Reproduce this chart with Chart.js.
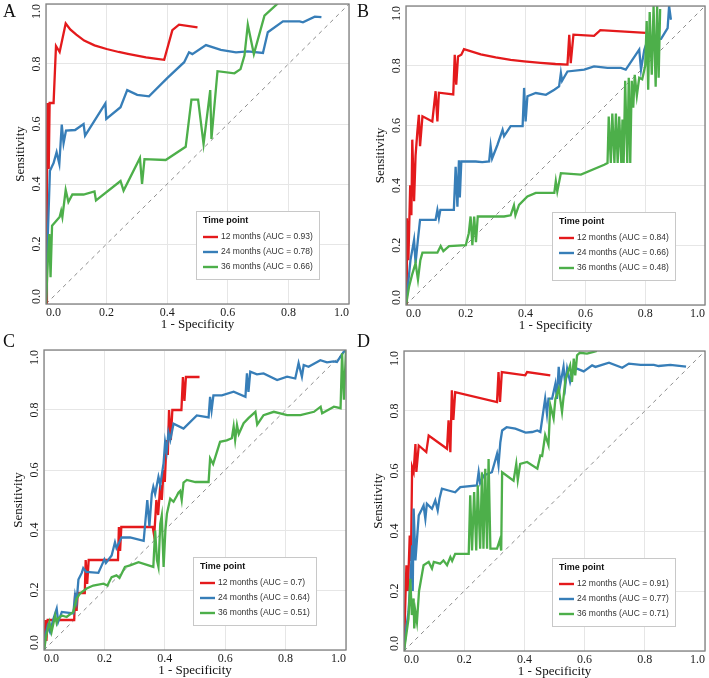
<!DOCTYPE html>
<html>
<head>
<meta charset="utf-8">
<script src="https://cdn.jsdelivr.net/npm/chart.js@4/dist/chart.umd.min.js"></script>
<style>
body { margin: 0; width: 709px; height: 678px; background: #fff; position: relative; overflow: hidden; }
.panel { position: absolute; }
.tag { position: absolute; font-family: "Liberation Serif", serif; font-size: 18px; line-height: 18px; color: #111; }
</style>
</head>
<body>
<div class="panel" style="left:0px;top:0px"><canvas id="chartA" width="354" height="338"></canvas></div>
<div class="panel" style="left:354px;top:0px"><canvas id="chartB" width="355" height="338"></canvas></div>
<div class="panel" style="left:0px;top:338px"><canvas id="chartC" width="354" height="340"></canvas></div>
<div class="panel" style="left:354px;top:338px"><canvas id="chartD" width="355" height="340"></canvas></div>
<div class="tag" style="left:3px;top:2px">A</div>
<div class="tag" style="left:357px;top:2px">B</div>
<div class="tag" style="left:3px;top:332px">C</div>
<div class="tag" style="left:357px;top:332px">D</div>
<script>
// series as [1 - specificity, sensitivity]
const timePoints = ['12 months', '24 months', '36 months'];
const aucA = [0.93, 0.78, 0.66];
const aucB = [0.84, 0.66, 0.48];
const aucC = [0.7, 0.64, 0.51];
const aucD = [0.91, 0.77, 0.71];
const legendTitle = 'Time point';
const xTitle = '1 - Specificity';
const yTitle = 'Sensitivity';
const axisTicks = [0, 0.2, 0.4, 0.6, 0.8, 1.0];
const diagonal = [0, 1];

const A_12 = [[0,0],[0.003,0.37],[0.005,0.67],[0.009,0.45],[0.012,0.67],[0.025,0.67],[0.033,0.86],[0.045,0.84],[0.065,0.935],[0.08,0.915],[0.1,0.898],[0.126,0.878],[0.16,0.862],[0.2,0.85],[0.24,0.84],[0.27,0.834],[0.3,0.828],[0.33,0.822],[0.36,0.818],[0.39,0.814],[0.417,0.913],[0.439,0.931],[0.5,0.922]];
const A_24 = [[0,0],[0.005,0.2],[0.013,0.444],[0.025,0.47],[0.035,0.506],[0.044,0.467],[0.052,0.598],[0.058,0.536],[0.066,0.578],[0.096,0.58],[0.124,0.6],[0.129,0.561],[0.196,0.669],[0.199,0.617],[0.246,0.656],[0.268,0.713],[0.301,0.697],[0.34,0.692],[0.4,0.753],[0.456,0.806],[0.472,0.839],[0.483,0.833],[0.528,0.863],[0.577,0.847],[0.627,0.839],[0.666,0.842],[0.716,0.837],[0.732,0.906],[0.782,0.942],[0.837,0.942],[0.848,0.939],[0.887,0.958],[0.909,0.956]];
const A_36 = [[0,0],[0.006,0.144],[0.011,0.233],[0.015,0.089],[0.02,0.261],[0.045,0.29],[0.05,0.31],[0.054,0.29],[0.065,0.38],[0.074,0.34],[0.087,0.365],[0.124,0.365],[0.16,0.375],[0.165,0.345],[0.246,0.41],[0.256,0.378],[0.31,0.487],[0.317,0.4],[0.325,0.483],[0.395,0.48],[0.461,0.524],[0.48,0.681],[0.502,0.681],[0.52,0.533],[0.542,0.713],[0.546,0.55],[0.566,0.776],[0.622,0.769],[0.642,0.783],[0.655,0.828],[0.666,0.931],[0.686,0.833],[0.721,0.961],[0.765,1.002]];

const B_12 = [[0,0],[0.003,0.29],[0.008,0.15],[0.014,0.4],[0.018,0.3],[0.021,0.553],[0.027,0.347],[0.032,0.5],[0.038,0.58],[0.043,0.636],[0.047,0.531],[0.055,0.631],[0.088,0.614],[0.099,0.715],[0.105,0.614],[0.11,0.71],[0.158,0.704],[0.163,0.837],[0.168,0.737],[0.174,0.831],[0.185,0.837],[0.194,0.856],[0.25,0.838],[0.3,0.828],[0.35,0.82],[0.395,0.815],[0.45,0.81],[0.5,0.806],[0.54,0.804],[0.546,0.904],[0.551,0.809],[0.56,0.904],[0.629,0.9],[0.65,0.919],[0.802,0.91]];
const B_24 = [[0,0],[0.008,0.08],[0.015,0.15],[0.027,0.218],[0.032,0.14],[0.04,0.22],[0.047,0.285],[0.06,0.285],[0.099,0.285],[0.105,0.318],[0.11,0.29],[0.115,0.318],[0.16,0.318],[0.166,0.462],[0.172,0.329],[0.177,0.484],[0.18,0.36],[0.185,0.48],[0.233,0.48],[0.255,0.478],[0.278,0.48],[0.283,0.531],[0.288,0.49],[0.306,0.536],[0.323,0.586],[0.328,0.565],[0.35,0.598],[0.39,0.598],[0.395,0.726],[0.4,0.614],[0.406,0.698],[0.434,0.709],[0.468,0.703],[0.496,0.72],[0.512,0.731],[0.518,0.776],[0.522,0.75],[0.54,0.781],[0.596,0.787],[0.629,0.798],[0.674,0.793],[0.719,0.793],[0.735,0.787],[0.78,0.854],[0.786,0.787],[0.797,0.854],[0.808,0.887],[0.853,0.89],[0.875,0.926],[0.88,1.0],[0.886,0.954]];
const B_36 = [[0,0],[0.01,0.06],[0.02,0.1],[0.032,0.14],[0.04,0.085],[0.048,0.15],[0.055,0.175],[0.077,0.175],[0.105,0.175],[0.116,0.197],[0.125,0.18],[0.144,0.197],[0.2,0.2],[0.21,0.24],[0.216,0.296],[0.222,0.2],[0.228,0.296],[0.234,0.21],[0.24,0.296],[0.25,0.296],[0.328,0.296],[0.35,0.3],[0.361,0.333],[0.366,0.3],[0.378,0.335],[0.406,0.363],[0.434,0.375],[0.496,0.375],[0.501,0.414],[0.506,0.38],[0.518,0.441],[0.585,0.436],[0.663,0.469],[0.674,0.475],[0.678,0.63],[0.685,0.475],[0.69,0.64],[0.697,0.475],[0.702,0.64],[0.708,0.475],[0.713,0.63],[0.72,0.475],[0.724,0.62],[0.728,0.475],[0.733,0.75],[0.74,0.475],[0.745,0.76],[0.75,0.475],[0.755,0.75],[0.76,0.66],[0.765,0.77],[0.772,0.7],[0.78,0.76],[0.79,0.755],[0.8,0.8],[0.805,0.95],[0.81,0.72],[0.815,0.98],[0.822,0.77],[0.828,1.0],[0.835,0.73],[0.84,1.0],[0.845,0.76],[0.85,0.99]];

const C_12 = [[0,0],[0.005,0.1],[0.008,0.03],[0.012,0.1],[0.1,0.1],[0.103,0.19],[0.108,0.13],[0.112,0.19],[0.135,0.19],[0.138,0.3],[0.143,0.22],[0.148,0.3],[0.245,0.3],[0.248,0.41],[0.252,0.33],[0.256,0.41],[0.36,0.41],[0.365,0.38],[0.372,0.5],[0.378,0.45],[0.385,0.55],[0.39,0.5],[0.396,0.6],[0.4,0.56],[0.406,0.7],[0.41,0.65],[0.414,0.8],[0.42,0.7],[0.425,0.8],[0.455,0.8],[0.46,0.91],[0.465,0.83],[0.47,0.91],[0.515,0.91]];
const C_24 = [[0,0],[0.005,0.05],[0.012,0.08],[0.02,0.06],[0.03,0.1],[0.042,0.138],[0.047,0.094],[0.059,0.127],[0.097,0.122],[0.103,0.183],[0.108,0.16],[0.114,0.235],[0.125,0.257],[0.13,0.273],[0.14,0.26],[0.18,0.257],[0.2,0.302],[0.205,0.29],[0.224,0.315],[0.235,0.359],[0.24,0.34],[0.257,0.375],[0.285,0.375],[0.33,0.364],[0.342,0.5],[0.349,0.413],[0.357,0.52],[0.362,0.544],[0.368,0.52],[0.379,0.577],[0.385,0.55],[0.396,0.623],[0.401,0.692],[0.406,0.66],[0.412,0.725],[0.418,0.7],[0.429,0.754],[0.462,0.738],[0.506,0.782],[0.545,0.775],[0.55,0.844],[0.555,0.8],[0.561,0.849],[0.589,0.849],[0.628,0.861],[0.667,0.844],[0.672,0.922],[0.677,0.86],[0.683,0.928],[0.705,0.919],[0.727,0.922],[0.772,0.9],[0.805,0.911],[0.832,0.905],[0.843,0.956],[0.854,0.911],[0.86,0.95],[0.876,0.944],[0.915,0.966],[0.937,0.959],[0.959,0.962],[0.97,0.96],[0.981,0.977],[0.992,0.993],[1,1]];
const C_36 = [[0,0],[0.008,0.05],[0.018,0.092],[0.025,0.06],[0.037,0.115],[0.042,0.09],[0.047,0.105],[0.059,0.115],[0.075,0.11],[0.097,0.127],[0.108,0.171],[0.119,0.188],[0.141,0.205],[0.163,0.215],[0.197,0.221],[0.21,0.215],[0.224,0.243],[0.24,0.249],[0.25,0.24],[0.268,0.277],[0.285,0.282],[0.313,0.293],[0.362,0.277],[0.368,0.398],[0.374,0.3],[0.379,0.277],[0.385,0.42],[0.39,0.448],[0.396,0.277],[0.402,0.4],[0.407,0.454],[0.418,0.504],[0.429,0.494],[0.44,0.514],[0.445,0.524],[0.451,0.53],[0.456,0.5],[0.462,0.558],[0.473,0.567],[0.501,0.56],[0.545,0.56],[0.55,0.639],[0.56,0.62],[0.583,0.694],[0.605,0.699],[0.622,0.706],[0.628,0.745],[0.633,0.7],[0.639,0.75],[0.645,0.72],[0.661,0.756],[0.677,0.773],[0.7,0.794],[0.706,0.751],[0.727,0.783],[0.761,0.794],[0.805,0.783],[0.849,0.783],[0.894,0.794],[0.916,0.811],[0.921,0.789],[0.96,0.811],[0.982,0.806],[0.987,0.989],[0.993,0.834],[1,1]];

const D_12 = [[0,0],[0.004,0.15],[0.008,0.286],[0.013,0.2],[0.019,0.385],[0.023,0.3],[0.027,0.613],[0.032,0.597],[0.038,0.69],[0.041,0.597],[0.049,0.685],[0.074,0.663],[0.082,0.718],[0.143,0.674],[0.148,0.769],[0.154,0.663],[0.159,0.869],[0.164,0.77],[0.17,0.863],[0.309,0.83],[0.314,0.93],[0.319,0.83],[0.325,0.93],[0.403,0.919],[0.409,0.93],[0.486,0.919]];
const D_24 = [[0,0],[0.008,0.08],[0.015,0.13],[0.022,0.25],[0.027,0.352],[0.029,0.2],[0.032,0.475],[0.038,0.302],[0.049,0.452],[0.058,0.47],[0.065,0.485],[0.071,0.441],[0.076,0.491],[0.093,0.474],[0.104,0.502],[0.112,0.469],[0.118,0.508],[0.126,0.541],[0.148,0.535],[0.17,0.529],[0.187,0.546],[0.242,0.552],[0.248,0.596],[0.253,0.56],[0.265,0.585],[0.292,0.596],[0.303,0.635],[0.309,0.657],[0.314,0.62],[0.32,0.695],[0.326,0.735],[0.341,0.746],[0.37,0.741],[0.404,0.728],[0.426,0.73],[0.443,0.735],[0.453,0.73],[0.469,0.841],[0.475,0.79],[0.48,0.841],[0.492,0.841],[0.503,0.891],[0.508,0.84],[0.514,0.947],[0.519,0.886],[0.53,0.947],[0.536,0.886],[0.542,0.941],[0.552,0.897],[0.564,0.941],[0.575,0.941],[0.597,0.932],[0.625,0.952],[0.636,0.947],[0.681,0.961],[0.725,0.944],[0.747,0.958],[0.786,0.954],[0.83,0.954],[0.846,0.95],[0.885,0.954],[0.937,0.948]];
const D_36 = [[0,0],[0.015,0.108],[0.021,0.241],[0.026,0.12],[0.032,0.175],[0.034,0.075],[0.038,0.13],[0.043,0.097],[0.05,0.2],[0.065,0.286],[0.082,0.297],[0.093,0.275],[0.099,0.297],[0.12,0.291],[0.131,0.302],[0.143,0.286],[0.154,0.313],[0.16,0.3],[0.17,0.324],[0.215,0.324],[0.22,0.519],[0.226,0.335],[0.233,0.53],[0.24,0.335],[0.245,0.552],[0.253,0.341],[0.259,0.596],[0.264,0.341],[0.27,0.607],[0.276,0.341],[0.281,0.64],[0.287,0.341],[0.298,0.341],[0.309,0.341],[0.318,0.369],[0.323,0.335],[0.326,0.596],[0.364,0.568],[0.373,0.624],[0.378,0.57],[0.386,0.624],[0.409,0.63],[0.443,0.608],[0.453,0.652],[0.459,0.65],[0.469,0.72],[0.48,0.686],[0.486,0.82],[0.497,0.775],[0.503,0.841],[0.514,0.875],[0.525,0.797],[0.536,0.903],[0.552,0.952],[0.558,0.897],[0.564,0.975],[0.569,0.919],[0.575,0.986],[0.584,0.994],[0.608,0.991],[0.63,0.997],[0.641,1.0]];

const colors = ['#E41A1C', '#377EB8', '#4DAF4A'];

// frame, tick labels and the boxed legend
const framePlugin = {
  id: 'frame',
  afterDraw(chart) {
    const { ctx, chartArea: a, scales: { x, y } } = chart;
    ctx.save();
    ctx.strokeStyle = '#808080';
    ctx.lineWidth = 1.3;
    ctx.strokeRect(a.left, a.top, a.width, a.height);

    ctx.fillStyle = '#1a1a1a';
    ctx.font = '12px "Liberation Serif"';
    ctx.textBaseline = 'middle';
    const xt = x.ticks, yt = y.ticks;
    xt.forEach((t, i) => {
      ctx.textAlign = i === 0 ? 'left' : (i === xt.length - 1 ? 'right' : 'center');
      ctx.fillText(t.value.toFixed(1), x.getPixelForValue(t.value), a.bottom + 9);
    });
    yt.forEach((t, i) => {
      ctx.save();
      ctx.translate(a.left - 9.5, y.getPixelForValue(t.value));
      ctx.rotate(-Math.PI / 2);
      ctx.textAlign = i === 0 ? 'left' : (i === yt.length - 1 ? 'right' : 'center');
      ctx.fillText(t.value.toFixed(1), 0, 0);
      ctx.restore();
    });

    // legend
    const w = 123, h = 68;
    const bx = Math.round(a.right - 30 - w), by = Math.round(a.bottom - 25 - h);
    ctx.fillStyle = '#fff';
    ctx.fillRect(bx, by, w, h);
    ctx.strokeStyle = '#c8c8c8';
    ctx.lineWidth = 1;
    ctx.strokeRect(bx + 0.5, by + 0.5, w, h);
    ctx.textAlign = 'left';
    ctx.fillStyle = '#111';
    ctx.font = 'bold 9px "Liberation Sans"';
    ctx.fillText(legendTitle, bx + 7, by + 10);
    ctx.font = '8.5px "Liberation Sans"';
    chart.data.datasets.filter(d => d.label).forEach((d, i) => {
      const yy = by + 26 + 15 * i;
      ctx.strokeStyle = d.borderColor;
      ctx.lineWidth = 2.4;
      ctx.beginPath();
      ctx.moveTo(bx + 7, yy);
      ctx.lineTo(bx + 22, yy);
      ctx.stroke();
      ctx.fillStyle = '#333';
      ctx.fillText(d.label, bx + 25, yy);
    });
    ctx.restore();
  }
};

function makeChart(id, series, auc, pad) {
  const datasets = series.map((pts, i) => ({
    label: timePoints[i] + ' (AUC = ' + auc[i] + ')',
    data: pts.map(p => ({ x: p[0], y: p[1] })),
    borderColor: colors[i],
    borderWidth: 2.3,
    pointRadius: 0,
    tension: 0,
    order: 3 - i
  }));
  datasets.push({
    label: '',
    data: diagonal.map(v => ({ x: v, y: v })),
    borderColor: '#8c8c8c',
    borderWidth: 1,
    borderDash: [4, 4],
    pointRadius: 0,
    order: 5
  });
  return new Chart(document.getElementById(id), {
    type: 'line',
    data: { datasets: datasets },
    options: {
      responsive: false,
      animation: false,
      devicePixelRatio: 1,
      layout: { padding: pad },
      plugins: { legend: { display: false }, tooltip: { enabled: false } },
      scales: {
        x: {
          type: 'linear', min: axisTicks[0], max: axisTicks[axisTicks.length - 1],
          ticks: { stepSize: 0.2, display: false },
          grid: { color: '#e6e6e6', drawTicks: false },
          border: { display: false },
          title: { display: true, text: xTitle, color: '#111',
                   font: { family: 'Liberation Serif', size: 13, lineHeight: 1 },
                   padding: { top: 0, bottom: 0 } },
          afterFit(s) { s.height = 27; s.paddingLeft = 0; s.paddingRight = 0; }
        },
        y: {
          type: 'linear', min: axisTicks[0], max: axisTicks[axisTicks.length - 1],
          ticks: { stepSize: 0.2, display: false },
          grid: { color: '#e6e6e6', drawTicks: false },
          border: { display: false },
          title: { display: true, text: yTitle, color: '#111',
                   font: { family: 'Liberation Serif', size: 13, lineHeight: 1 },
                   padding: { top: 8, bottom: 0 } },
          afterFit(s) { s.width = 40; s.paddingTop = 0; s.paddingBottom = 0; }
        }
      }
    },
    plugins: [framePlugin]
  });
}

makeChart('chartA', [A_12, A_24, A_36], aucA, { left: 6, right: 5, top: 4, bottom: 7 });
makeChart('chartB', [B_12, B_24, B_36], aucB, { left: 12, right: 4, top: 6, bottom: 6 });
makeChart('chartC', [C_12, C_24, C_36], aucC, { left: 4, right: 8, top: 12, bottom: 1 });
makeChart('chartD', [D_12, D_24, D_36], aucD, { left: 10, right: 4, top: 13, bottom: 0 });
</script>
</body>
</html>
